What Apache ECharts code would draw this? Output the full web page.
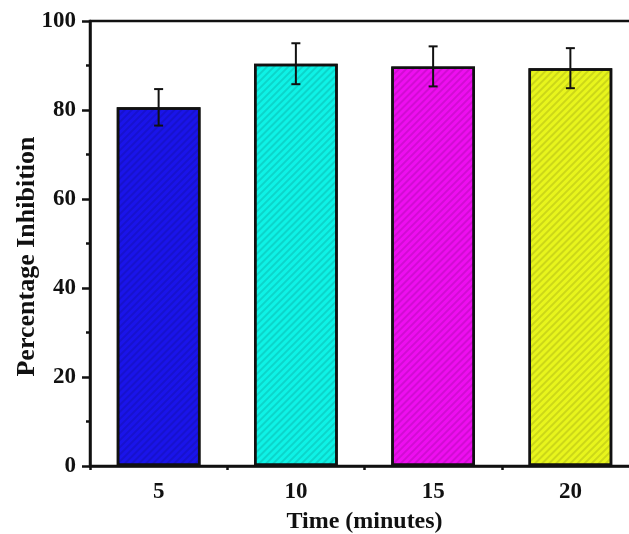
<!DOCTYPE html>
<html>
<head>
<meta charset="utf-8">
<script src="https://cdn.jsdelivr.net/npm/echarts@6/dist/echarts.min.js"></script>
<style>html,body{margin:0;padding:0;background:#fff;}#c{width:629px;height:534px;}</style>
</head>
<body>
<div id="c"></div>
<script>
var categories = ['5', '10', '15', '20'];
var inhibition = [80.6, 90.4, 89.8, 89.4];
var errors = [4.1, 4.6, 4.5, 4.5];
var barColors = ['#1a14ea', '#0ef2e6', '#ee0ef0', '#e8f51c'];
var yTicks = [0, 20, 40, 60, 80, 100];

var FONT = '"Liberation Serif", "Times New Roman", serif';
var chart = echarts.init(document.getElementById('c'), null, {renderer: 'canvas'});

var decal = {
  symbol: 'rect',
  color: 'rgba(0,0,0,0.12)',
  dashArrayX: [1, 0],
  dashArrayY: [2, 3],
  rotation: -Math.PI / 4
};

var gridBox = {left: 90, top: 21, width: 549, height: 445, containLabel: false, outerBoundsMode: 'none'};

var option = {
  animation: false,
  backgroundColor: '#fff',
  grid: [
    Object.assign({show: true, borderColor: '#111', borderWidth: 2.5, backgroundColor: 'transparent'}, gridBox),
    Object.assign({show: false}, gridBox)
  ],
  xAxis: [
    {
      gridIndex: 0, type: 'category', data: categories, position: 'bottom',
      boundaryGap: true,
      name: 'Time (minutes)', nameLocation: 'middle', nameGap: 44,
      nameTextStyle: {fontFamily: FONT, fontWeight: 'bold', fontSize: 24, color: '#111'},
      axisLine: {lineStyle: {color: '#111', width: 2.5}},
      axisTick: {alignWithLabel: true, length: 8, inside: false, lineStyle: {color: '#111', width: 2.5}},
      axisLabel: {fontFamily: FONT, fontWeight: 'bold', fontSize: 23, color: '#111', margin: 15}
    },
    {
      gridIndex: 1, type: 'category', data: categories, position: 'bottom',
      boundaryGap: true,
      axisLine: {show: true, lineStyle: {color: 'rgba(0,0,0,0)', width: 0}},
      axisTick: {show: true, alignWithLabel: false, length: 4, lineStyle: {color: '#111', width: 2.5}},
      axisLabel: {show: false}
    }
  ],
  yAxis: [
    {
      gridIndex: 0, type: 'value', min: yTicks[0], max: yTicks[yTicks.length - 1], interval: 20,
      name: 'Percentage Inhibition', nameLocation: 'middle', nameGap: 50, nameMoveOverlap: false,
      nameTextStyle: {fontFamily: FONT, fontWeight: 'bold', fontSize: 26, color: '#111', padding: [0, 26, 0, 0]},
      axisLine: {show: true, lineStyle: {color: '#111', width: 2.5}},
      axisTick: {show: true, length: 8, lineStyle: {color: '#111', width: 2.5}},
      minorTick: {show: true, splitNumber: 2, length: 4, lineStyle: {color: '#111', width: 2.5}},
      splitLine: {show: false},
      axisLabel: {fontFamily: FONT, fontWeight: 'bold', fontSize: 23, color: '#111', margin: 14}
    },
    {
      gridIndex: 1, type: 'value', min: yTicks[0], max: yTicks[yTicks.length - 1], show: false
    }
  ],
  series: [
    {
      type: 'bar', xAxisIndex: 0, yAxisIndex: 0, barWidth: '61%',
      data: inhibition.map(function (v, i) {
        return {value: v, itemStyle: {color: barColors[i], decal: decal}};
      }),
      itemStyle: {borderColor: '#111', borderWidth: 2.5}
    },
    {
      type: 'custom', xAxisIndex: 0, yAxisIndex: 0, z: 10,
      data: inhibition.map(function (v, i) { return [i, v - errors[i], v + errors[i]]; }),
      renderItem: function (params, api) {
        var lo = api.coord([api.value(0), api.value(1)]);
        var hi = api.coord([api.value(0), api.value(2)]);
        var cap = 4.5;
        var st = {stroke: '#111', lineWidth: 2};
        return {type: 'group', children: [
          {type: 'line', shape: {x1: hi[0], y1: hi[1], x2: lo[0], y2: lo[1]}, style: st},
          {type: 'line', shape: {x1: hi[0] - cap, y1: hi[1], x2: hi[0] + cap, y2: hi[1]}, style: st},
          {type: 'line', shape: {x1: lo[0] - cap, y1: lo[1], x2: lo[0] + cap, y2: lo[1]}, style: st}
        ]};
      }
    }
  ]
};
chart.setOption(option);
</script>
</body>
</html>
